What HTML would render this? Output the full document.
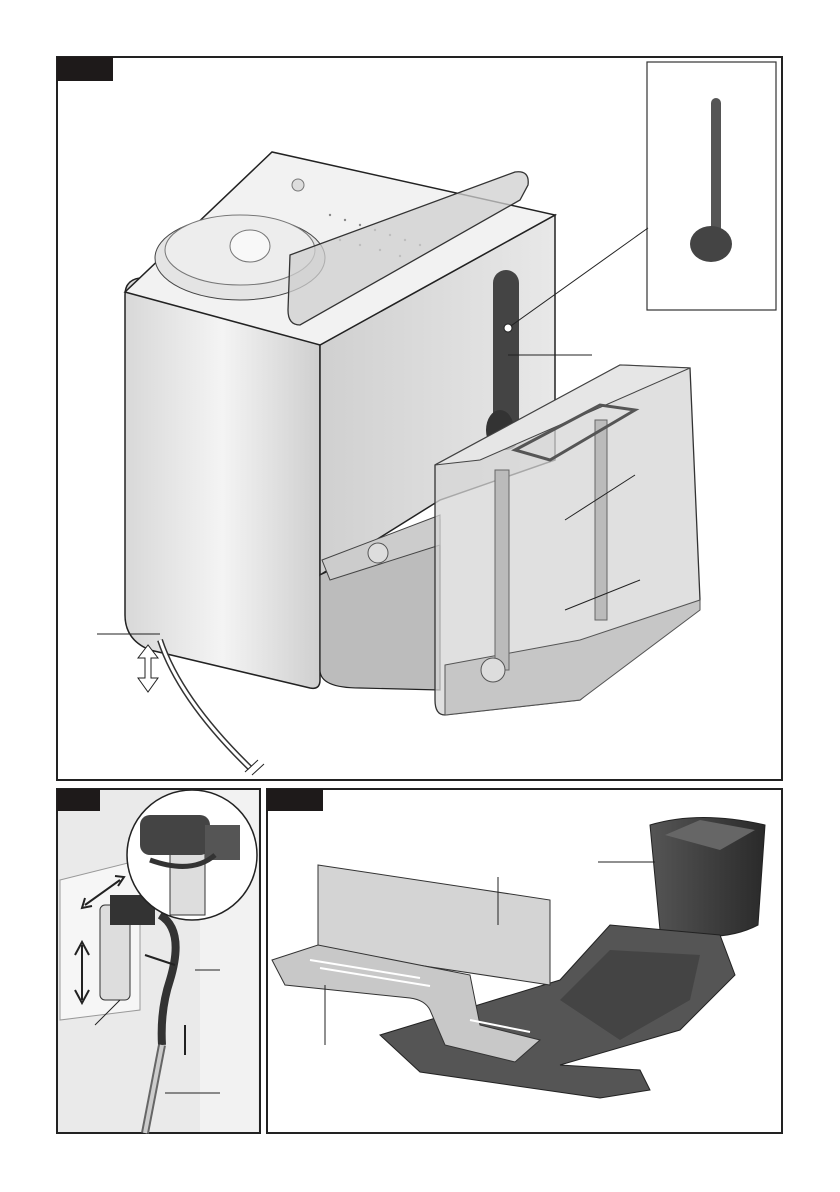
<!DOCTYPE html>
<html><head><meta charset="utf-8"><style>
html,body{margin:0;padding:0;background:#fff}
svg{display:block}
</style></head><body>
<svg width="840" height="1192" viewBox="0 0 840 1192" xmlns="http://www.w3.org/2000/svg">
<defs>
<linearGradient id="lf" x1="0" x2="1"><stop offset="0" stop-color="#d8d8d8"/><stop offset="0.5" stop-color="#f4f4f4"/><stop offset="1" stop-color="#cfcfcf"/></linearGradient>
<linearGradient id="rf" x1="0" x2="1"><stop offset="0" stop-color="#d0d0d0"/><stop offset="1" stop-color="#e8e8e8"/></linearGradient>
<linearGradient id="dk" x1="0" x2="1"><stop offset="0" stop-color="#555"/><stop offset="1" stop-color="#2a2a2a"/></linearGradient>
</defs>
<!-- main panel -->
<rect x="57" y="57" width="725" height="723" fill="#fff" stroke="#222" stroke-width="2"/>
<rect x="57" y="57" width="56" height="24" fill="#1e1a1a"/>
<!-- inset -->
<rect x="647" y="62" width="129" height="248" fill="#fff" stroke="#333" stroke-width="1.2"/>
<rect x="711" y="98" width="10" height="140" rx="5" fill="#555"/>
<ellipse cx="711" cy="244" rx="21" ry="18" fill="#444"/>
<!-- machine left face -->
<path d="M125,295 Q125,280 140,278 L320,345 L320,680 Q320,690 310,688 L150,650 Q125,640 125,615 Z" fill="url(#lf)" stroke="#222" stroke-width="1.5"/>
<!-- right face -->
<path d="M320,345 L555,215 L555,460 L440,500 L320,575 Z" fill="url(#rf)" stroke="#222" stroke-width="1.5"/>
<!-- base -->
<path d="M320,575 L440,520 L440,690 L360,688 Q320,688 320,670 Z" fill="#bcbcbc" stroke="#222" stroke-width="1.2"/>
<path d="M322,560 L440,515 L440,545 L330,580 Z" fill="#ccc" stroke="#444"/>
<circle cx="378" cy="553" r="10" fill="#ddd" stroke="#555"/>
<!-- top face -->
<path d="M125,292 L272,152 L555,215 L320,345 Z" fill="#f2f2f2" stroke="#222" stroke-width="1.5"/>
<circle cx="298" cy="185" r="6" fill="#ddd" stroke="#777"/>
<ellipse cx="240" cy="258" rx="85" ry="42" fill="#e4e4e4" stroke="#444"/>
<ellipse cx="240" cy="250" rx="75" ry="35" fill="#ededed" stroke="#777"/>
<ellipse cx="250" cy="246" rx="20" ry="16" fill="#f8f8f8" stroke="#777"/>
<g fill="#888"><circle cx="330" cy="215" r="1.2"/><circle cx="345" cy="220" r="1.2"/><circle cx="360" cy="225" r="1.2"/><circle cx="375" cy="230" r="1.2"/><circle cx="390" cy="235" r="1.2"/><circle cx="405" cy="240" r="1.2"/><circle cx="420" cy="245" r="1.2"/><circle cx="340" cy="240" r="1.2"/><circle cx="360" cy="245" r="1.2"/><circle cx="380" cy="250" r="1.2"/><circle cx="400" cy="256" r="1.2"/></g>
<!-- lid -->
<path d="M290,255 L515,172 Q530,170 528,185 L520,200 L300,325 Q288,325 288,310 Z" fill="#cfcfcf" fill-opacity="0.75" stroke="#333" stroke-width="1.3"/>
<!-- spoon slot -->
<rect x="493" y="270" width="26" height="180" rx="13" fill="#444"/>
<ellipse cx="500" cy="430" rx="14" ry="20" fill="#333"/>
<line x1="508" y1="328" x2="648" y2="228" stroke="#222" stroke-width="1"/>
<circle cx="508" cy="328" r="4" fill="#fff" stroke="#222"/>
<line x1="508" y1="355" x2="592" y2="355" stroke="#222" stroke-width="1"/>
<!-- water tank -->
<path d="M435,465 L620,365 L690,368 L700,600 L640,650 L580,700 L445,715 Q435,715 435,700 Z" fill="#d6d6d6" fill-opacity="0.75" stroke="#333" stroke-width="1.3"/>
<path d="M435,465 L620,365 L690,368 L480,460 Z" fill="#e6e6e6" stroke="#444"/>
<path d="M445,665 L580,640 L700,600 L700,610 L580,700 L445,715 Z" fill="#c6c6c6" stroke="#555"/>
<rect x="495" y="470" width="14" height="200" fill="#bbb" stroke="#666"/>
<rect x="595" y="420" width="12" height="200" fill="#bbb" stroke="#666"/>
<path d="M515,450 L600,405 L635,410 L550,460 Z" fill="none" stroke="#555" stroke-width="3"/>
<circle cx="493" cy="670" r="12" fill="#ddd" stroke="#555"/>
<line x1="565" y1="520" x2="635" y2="475" stroke="#222"/>
<line x1="565" y1="610" x2="640" y2="580" stroke="#222"/>
<!-- hose -->
<path d="M160,640 Q180,700 250,768" fill="none" stroke="#333" stroke-width="6"/>
<path d="M160,640 Q180,700 250,768" fill="none" stroke="#fff" stroke-width="3"/>
<line x1="245" y1="772" x2="258" y2="760" stroke="#222"/><line x1="252" y1="775" x2="264" y2="764" stroke="#222"/>
<line x1="97" y1="634" x2="160" y2="634" stroke="#222"/>
<path d="M148,645 L138,658 L145,658 L145,678 L138,678 L148,692 L158,678 L151,678 L151,658 L158,658 Z" fill="#fff" stroke="#222"/>
<!-- bottom-left panel -->
<rect x="57" y="789" width="203" height="344" fill="#eaeaea" stroke="#222" stroke-width="2"/>
<rect x="200" y="790" width="58" height="342" fill="#f2f2f2"/>
<rect x="57" y="789" width="43" height="22" fill="#1e1a1a"/>
<path d="M60,880 L140,860 L140,1010 L60,1020 Z" fill="#f6f6f6" stroke="#999"/>
<rect x="100" y="905" width="30" height="95" rx="5" fill="#ddd" stroke="#333"/>
<rect x="110" y="895" width="45" height="30" fill="#333"/>
<path d="M160,915 Q185,930 170,980 Q160,1010 162,1045" fill="none" stroke="#333" stroke-width="8"/>
<path d="M162,1045 L145,1133" stroke="#666" stroke-width="8"/>
<path d="M162,1045 L145,1133" stroke="#ccc" stroke-width="4"/>
<circle cx="192" cy="855" r="65" fill="#fff" stroke="#222" stroke-width="1.5"/>
<rect x="170" y="830" width="35" height="85" fill="#ddd" stroke="#333"/>
<rect x="140" y="815" width="70" height="40" rx="10" fill="#444"/>
<rect x="205" y="825" width="35" height="35" fill="#555"/>
<path d="M150,860 Q192,875 215,855" fill="none" stroke="#333" stroke-width="5"/>
<path d="M82,1000 L82,945 M75,955 L82,942 L89,955 M75,990 L82,1003 L89,990" fill="none" stroke="#222" stroke-width="2"/>
<path d="M85,905 L120,880 M85,898 L82,908 L92,906 M115,876 L124,877 L118,886" fill="none" stroke="#222" stroke-width="2"/>
<path d="M145,955 L175,965" stroke="#222" stroke-width="2"/>
<path d="M185,1025 L185,1055" stroke="#222" stroke-width="2"/>
<line x1="195" y1="970" x2="220" y2="970" stroke="#222"/>
<line x1="95" y1="1025" x2="120" y2="1000" stroke="#222"/>
<line x1="165" y1="1093" x2="220" y2="1093" stroke="#222"/>
<!-- bottom-right panel -->
<rect x="267" y="789" width="515" height="344" fill="#fff" stroke="#222" stroke-width="2"/>
<rect x="267" y="789" width="56" height="22" fill="#1e1a1a"/>
<path d="M650,825 Q700,810 765,825 L758,925 Q720,945 660,930 Z" fill="url(#dk)" stroke="#222"/>
<path d="M665,835 L700,820 L755,830 L720,850 Z" fill="#666"/>
<line x1="598" y1="862" x2="655" y2="862" stroke="#222"/>
<path d="M380,1035 L560,980 L610,925 L720,935 L735,975 L680,1030 L560,1065 L640,1070 L650,1090 L600,1098 L420,1072 Z" fill="#555" stroke="#222"/>
<path d="M560,1000 L610,950 L700,955 L690,1000 L620,1040 Z" fill="#444"/>
<path d="M318,865 L550,900 L550,985 L318,950 Z" fill="#d4d4d4" stroke="#333"/>
<path d="M272,960 L318,945 L470,975 L480,1025 L540,1040 L515,1062 L445,1045 L430,1010 Q425,1000 410,998 L285,985 Z" fill="#c8c8c8" stroke="#333"/>
<g stroke="#fff" stroke-width="2"><line x1="310" y1="960" x2="420" y2="978"/><line x1="320" y1="968" x2="430" y2="986"/><line x1="470" y1="1020" x2="530" y2="1032"/></g>
<line x1="498" y1="877" x2="498" y2="925" stroke="#222"/>
<line x1="325" y1="1045" x2="325" y2="985" stroke="#222"/>
</svg>
</body></html>
